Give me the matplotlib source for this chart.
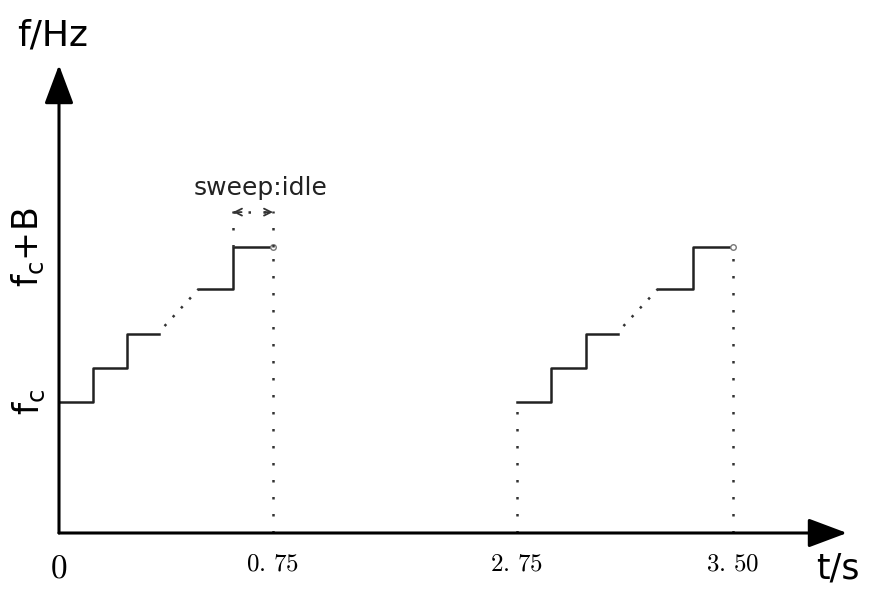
import numpy as np
import matplotlib
matplotlib.use('Agg')
import matplotlib.pyplot as plt

plt.rcParams['font.family'] = ['DejaVu Sans']
plt.rcParams['mathtext.fontset'] = 'cm'

# one sweep, times relative to sweep start (s), freq level: 0 = fc, 1 = fc+B
lo_t = [0, 0.12, 0.24, 0.35]
lo_f = [0, 0.22, 0.44, 0.44]
hi_t = [0.49, 0.61, 0.75]
hi_f = [0.73, 1.0, 1.0]
sweep_starts = [0, 2.75]
sweep_len = 0.75
idle_start = 0.61

x_ticks = [0, 0.75, 2.75, 3.50]
x_labels = [r'$0$', r'$0.\,75$', r'$2.\,75$', r'$3.\,50$']
y_ticks = [0, 1]
y_labels = [r'$\mathregular{f_c}$', r'$\mathregular{f_c{+}B}$']

# time axis is squeezed between the two sweeps
t_anchor = [-10, 0, 0.75, 2.75, 3.50, 10]
x_anchor = [-10, 0, 0.75, 1.605, 2.362, 8.862]


def fwd(t):
    return np.interp(t, t_anchor, x_anchor)


def inv(x):
    return np.interp(x, x_anchor, t_anchor)


W, H = 871, 590
fig = plt.figure(figsize=(W / 100, H / 100), dpi=100)
ax = fig.add_axes([59 / W, 57 / H, 788 / W, 468 / H])
ax.set_xscale('function', functions=(fwd, inv))
ax.set_xlim(0, 3.90)
ymin = -0.845
ax.set_ylim(ymin, 2.174)
for sp in ax.spines.values():
    sp.set_visible(False)

line_c = '#222222'
dot_c = '#333333'
vdots = (0, (1, 5.8))
ddots = (0, (1, 3.85))

# axes with arrow heads
for tip in [(1, 0), (0, 1)]:
    ax.annotate('', xy=tip, xytext=(0, 0), xycoords='axes fraction',
                arrowprops=dict(arrowstyle='-|>,head_length=2.4,head_width=0.9',
                                mutation_scale=10, lw=2.2, color='black',
                                shrinkA=0, shrinkB=0))

for s in sweep_starts:
    ax.plot(np.add(lo_t, s), lo_f, drawstyle='steps-post', color=line_c, lw=1.8)
    ax.plot(np.add(hi_t, s), hi_f, drawstyle='steps-post', color=line_c, lw=1.8)
    ax.plot([s + lo_t[-1] + 0.02, s + hi_t[0]], [lo_f[-1] + 0.05, hi_f[0]],
            ls=ddots, lw=1.8, color=dot_c)
    ax.plot([s + sweep_len] * 2, [ymin, 1], ls=vdots, lw=1.8, color=dot_c)
    if s > 0:
        ax.plot([s, s], [ymin, 0], ls=vdots, lw=1.8, color=dot_c)
    ax.plot(s + sweep_len, 1, marker='o', ms=4, mfc='white', mec='#777777', mew=1)

# sweep:idle bracket
for xb in [idle_start, sweep_len]:
    ax.plot([xb, xb], [1, 1.23], ls=vdots, lw=1.8, color=dot_c)
ax.plot([idle_start, sweep_len], [1.225, 1.225], ls=(0, (1, 5)), lw=1.8, color=dot_c)
for a, b in [(idle_start, idle_start + 0.03), (sweep_len, sweep_len - 0.03)]:
    ax.annotate('', xy=(a, 1.225), xytext=(b, 1.225),
                arrowprops=dict(arrowstyle='->,head_length=0.5,head_width=0.25',
                                lw=1.3, color=dot_c, shrinkA=0, shrinkB=0))
ax.text(0.705, 1.335, 'sweep:idle', fontsize=18, ha='center', va='baseline', color='#222222')

ax.set_xticks(x_ticks, x_labels, fontsize=18)
ax.get_xticklabels()[0].set_fontsize(24)
ax.set_yticks(y_ticks, y_labels, fontsize=25, rotation=90, va='center')
ax.tick_params(axis='x', length=0, pad=13)
ax.tick_params(axis='y', length=0, pad=9)

ax.text(-0.0076, 1.0427, 'f/Hz', transform=ax.transAxes, fontsize=26,
        ha='center', va='baseline')
ax.text(0.9886, -0.0748, 't/s', transform=ax.transAxes, fontsize=25,
        ha='center', va='center')

fig.savefig('out.png', dpi=100)
